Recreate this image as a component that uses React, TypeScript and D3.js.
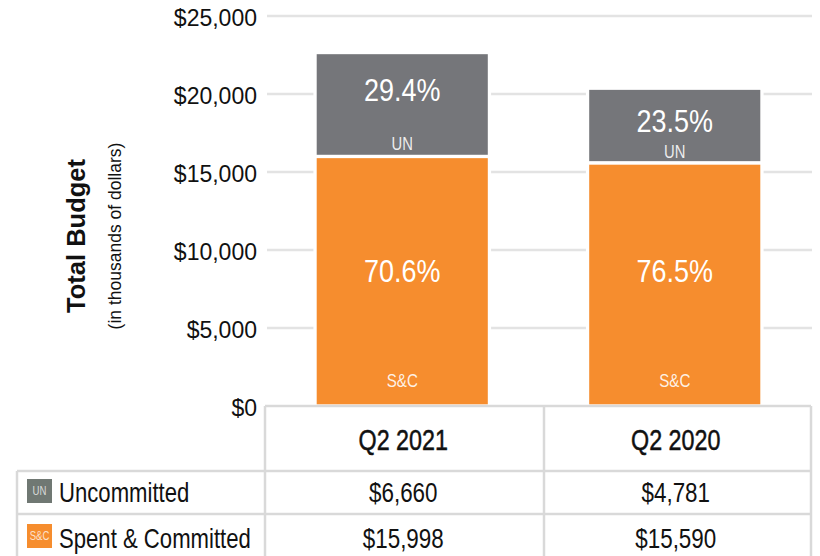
import React from "react";
import * as d3 from "d3";

const categories = ["Q2 2021", "Q2 2020"];
const spentCommitted = [15998, 15590];
const uncommitted = [6660, 4781];
const yTicks = [0, 5000, 10000, 15000, 20000, 25000];
const seriesNames = ["Uncommitted", "Spent & Committed"];
const seriesShort = ["UN", "S&C"];

const W = 820;
const H = 556;
const ORANGE = "#F68D2E";
const GRAY = "#75767A";
const SWATCH_GRAY = "#707873";
const LINE = "#d9d9d9";
const GRID = "#e3e3e3";
const REG = "'Liberation Sans', Arial, sans-serif";

type NTProps = {
  x: number;
  y: number;
  size: number;
  sx: number;
  anchor?: string;
  fill?: string;
  fillOpacity?: number;
  stroke?: string;
  strokeWidth?: number;
  children: React.ReactNode;
};

function NT({ x, y, size, sx, anchor = "middle", fill = "#111", fillOpacity, stroke, strokeWidth, children }: NTProps) {
  return (
    <text
      transform={`translate(${x},${y}) scale(${sx},1)`}
      textAnchor={anchor}
      fontFamily={REG}
      fontSize={size}
      fill={fill}
      fillOpacity={fillOpacity}
      stroke={stroke}
      strokeWidth={strokeWidth}
    >
      {children}
    </text>
  );
}

export default function App() {
  const y = d3.scaleLinear().domain([0, 25000]).range([406, 16]);
  const x = d3.scaleBand<string>().domain(categories).range([266, 811]).paddingInner(0.36).paddingOuter(0.18);
  const fmt = d3.format("$,");
  const pct = d3.format(".1%");

  const tableLeft = 17;
  const colLines = [265, 544, 811];
  const rowTop = [471, 514];
  const rowBottom = 558;
  const headerTop = 406;
  const center = (c: string) => x(c)! + x.bandwidth() / 2;

  return (
    <svg width={W} height={H} style={{ position: "absolute", left: 0, top: 0, background: "#fff" }}>
      {yTicks.filter((t) => t > 0).map((t) => (
        <line key={t} x1={267} x2={812} y1={y(t)} y2={y(t)} stroke={GRID} strokeWidth={2.5} />
      ))}
      {yTicks.map((t) => (
        <text key={t} x={257} y={y(t) + 10} textAnchor="end" fontFamily={REG} fontSize={23} fill="#111">
          {fmt(t)}
        </text>
      ))}
      <text transform={`translate(85,236) rotate(-90)`} textAnchor="middle" fontFamily={REG} fontWeight="bold" fontSize={25.5} fill="#111">
        Total Budget
      </text>
      <text transform={`translate(121,236) rotate(-90)`} textAnchor="middle" fontFamily={REG} fontSize={17.5} fill="#111">
        (in thousands of dollars)
      </text>

      {categories.map((c, i) => {
        const sc = spentCommitted[i];
        const un = uncommitted[i];
        const total = sc + un;
        const bx = x(c)!;
        const bw = x.bandwidth();
        const cx = center(c);
        const scTop = y(sc);
        const unTop = y(total);
        const base = y(0);
        const h = scTop - unTop;
        return (
          <g key={c}>
            <rect x={bx} y={scTop} width={bw} height={base - scTop} fill={ORANGE} stroke="#fff" strokeWidth={3.3} />
            <rect x={bx} y={unTop} width={bw} height={h} fill={GRAY} stroke="#fff" strokeWidth={3.3} />
            <NT x={cx} y={unTop + Math.max(h * 0.47, 44)} size={31} sx={0.87} fill="#fff">
              {pct(un / total)}
            </NT>
            <NT x={cx} y={scTop - Math.min(8, h * 0.06)} size={18.5} sx={0.8} fill="#fff" fillOpacity={0.88}>
              {seriesShort[0]}
            </NT>
            <NT x={cx} y={282} size={31} sx={0.87} fill="#fff">
              {pct(sc / total)}
            </NT>
            <NT x={cx} y={base - 19} size={18.5} sx={0.82} fill="#fff" fillOpacity={0.9}>
              {seriesShort[1]}
            </NT>
          </g>
        );
      })}

      <g stroke={LINE} strokeWidth={2.5}>
        <line x1={colLines[0]} x2={colLines[2]} y1={headerTop} y2={headerTop} />
        <line x1={tableLeft} x2={colLines[2]} y1={rowTop[0]} y2={rowTop[0]} />
        <line x1={tableLeft} x2={colLines[2]} y1={rowTop[1]} y2={rowTop[1]} />
        <line x1={tableLeft} x2={colLines[2]} y1={rowBottom} y2={rowBottom} />
        <line x1={tableLeft} x2={tableLeft} y1={rowTop[0]} y2={rowBottom} />
        {colLines.map((vx, k) => (
          <line key={k} x1={vx} x2={vx} y1={headerTop} y2={rowBottom} />
        ))}
      </g>

      {categories.map((c) => (
        <NT key={c} x={center(c) + 1} y={450} size={29.5} sx={0.79} stroke="#111" strokeWidth={0.5}>
          {c}
        </NT>
      ))}

      {[uncommitted, spentCommitted].map((vals, r) => {
        const baseY = r === 0 ? 502 : 548;
        const swTop = r === 0 ? 479 : 524;
        return (
          <g key={r}>
            <rect x={27} y={swTop} width={25} height={24} fill={r === 0 ? SWATCH_GRAY : ORANGE} />
            <NT x={39.5} y={swTop + 16} size={12} sx={0.8} fill="#fff" fillOpacity={0.75}>
              {seriesShort[r]}
            </NT>
            <NT x={59} y={baseY} size={27} sx={0.82} anchor="start">
              {seriesNames[r]}
            </NT>
            {categories.map((c, i) => (
              <NT key={c} x={center(c) + 1} y={baseY} size={27} sx={0.83}>
                {fmt(vals[i])}
              </NT>
            ))}
          </g>
        );
      })}
    </svg>
  );
}
